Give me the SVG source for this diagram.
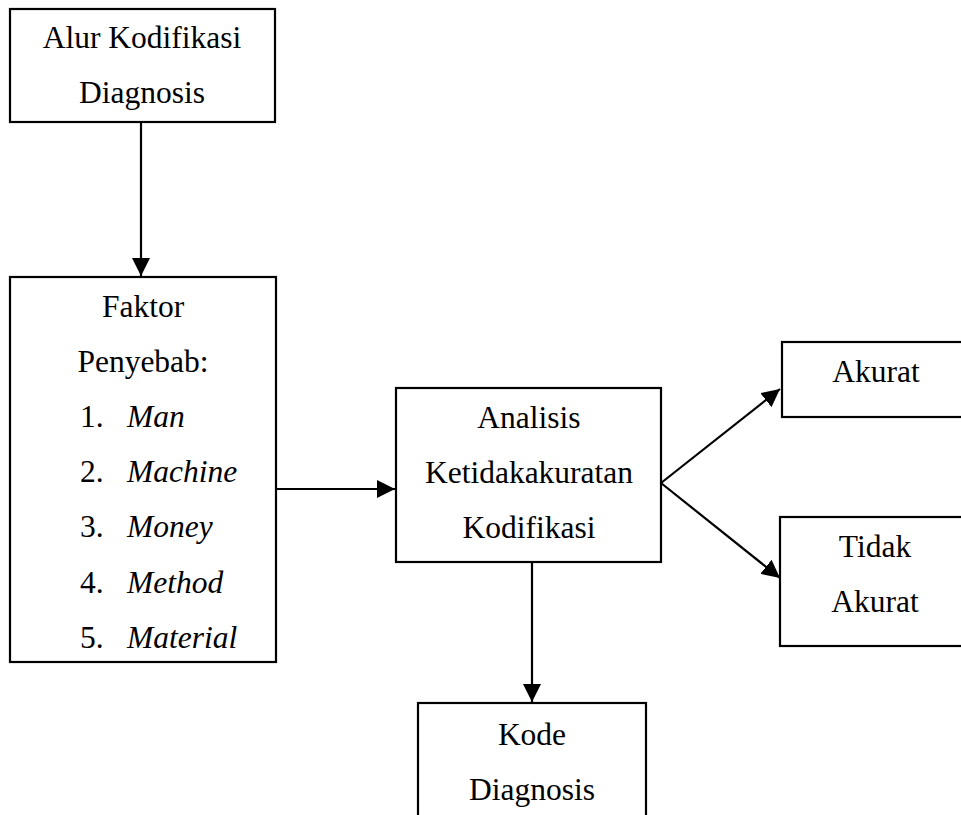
<svg xmlns="http://www.w3.org/2000/svg" width="961" height="815" viewBox="0 0 961 815">
<defs>
<style>
.box{fill:#fff;stroke:#000;stroke-width:2.2}
.ln{fill:none;stroke:#000;stroke-width:2.2}
text{font-family:"Liberation Serif","Times New Roman",serif;font-size:31.5px;fill:#000}
.c{text-anchor:middle}
.i{font-style:italic}
</style>
<marker id="ah" markerUnits="userSpaceOnUse" markerWidth="18" markerHeight="18" viewBox="0 0 16 16" refX="16" refY="8" orient="auto">
<path d="M0,0 L16,8 L0,16 Z" fill="#000"/>
</marker>
</defs>
<g id="connectors">
<line class="ln" x1="141" y1="122" x2="141" y2="276" marker-end="url(#ah)"/>
<line class="ln" x1="276" y1="489" x2="395" y2="489" marker-end="url(#ah)"/>
<line class="ln" x1="532" y1="562" x2="532" y2="702" marker-end="url(#ah)"/>
<line class="ln" x1="661" y1="483" x2="780" y2="389" marker-end="url(#ah)"/>
<line class="ln" x1="661" y1="483" x2="780" y2="578" marker-end="url(#ah)"/>
</g>
<g id="n1">
<rect class="box" x="10" y="9" width="265" height="113"/>
<text class="c" x="142" y="48">Alur Kodifikasi</text>
<text class="c" x="142" y="103">Diagnosis</text>
</g>
<g id="n2">
<rect class="box" x="10" y="277" width="266" height="385"/>
<text class="c" x="143" y="317">Faktor</text>
<text class="c" x="143" y="372">Penyebab:</text>
<text x="80" y="427">1.</text><text class="i" x="127" y="427">Man</text>
<text x="80" y="482">2.</text><text class="i" x="127" y="482">Machine</text>
<text x="80" y="537">3.</text><text class="i" x="127" y="537">Money</text>
<text x="80" y="593">4.</text><text class="i" x="127" y="593">Method</text>
<text x="80" y="648">5.</text><text class="i" x="127" y="648">Material</text>
</g>
<g id="n3">
<rect class="box" x="396" y="388" width="265" height="174"/>
<text class="c" x="529" y="428">Analisis</text>
<text class="c" x="529" y="483">Ketidakakuratan</text>
<text class="c" x="529" y="538">Kodifikasi</text>
</g>
<g id="n4">
<rect class="box" x="418" y="703" width="228" height="130"/>
<text class="c" x="532" y="745">Kode</text>
<text class="c" x="532" y="800">Diagnosis</text>
</g>
<g id="n5">
<rect class="box" x="782" y="342" width="200" height="75"/>
<text class="c" x="876" y="382">Akurat</text>
</g>
<g id="n6">
<rect class="box" x="780" y="517" width="200" height="129"/>
<text class="c" x="875" y="557">Tidak</text>
<text class="c" x="875" y="612">Akurat</text>
</g>
</svg>
